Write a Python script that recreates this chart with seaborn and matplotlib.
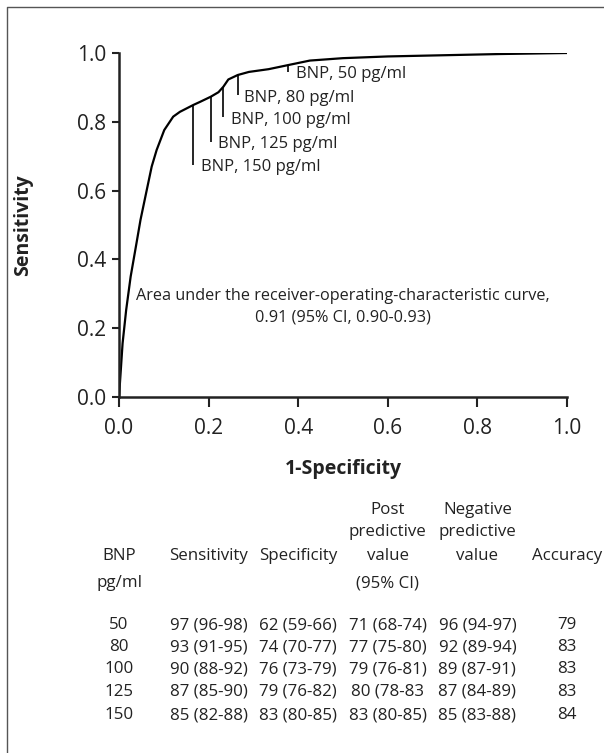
import matplotlib
matplotlib.use("Agg")
import matplotlib.pyplot as plt
import matplotlib.transforms as mtransforms
from matplotlib.lines import Line2D
import seaborn as sns

# ROC curve
fpr = [0, 0.004, 0.008, 0.016, 0.026, 0.039, 0.048, 0.062, 0.073, 0.084, 0.101,
       0.121, 0.136, 0.166, 0.181, 0.205, 0.222, 0.233, 0.244, 0.265, 0.29,
       0.334, 0.378, 0.426, 0.5, 0.6, 0.85, 1.0]
tpr = [0, 0.078, 0.156, 0.253, 0.35, 0.447, 0.515, 0.602, 0.670, 0.718, 0.776,
       0.815, 0.829, 0.849, 0.858, 0.873, 0.886, 0.902, 0.923, 0.936, 0.945,
       0.953, 0.965, 0.978, 0.985, 0.990, 0.997, 1.0]

# cut-off markers (x on curve, top and bottom of the tick line)
bnp_levels = [50, 80, 100, 125, 150]
mark_x = [0.378, 0.265, 0.233, 0.205, 0.166]
mark_top = [0.965, 0.936, 0.902, 0.873, 0.849]
mark_bottom = [0.946, 0.878, 0.813, 0.742, 0.674]
label_x = [0.394, 0.280, 0.249, 0.221, 0.183]
label_y = [0.940, 0.868, 0.805, 0.735, 0.669]

ticks = [0.0, 0.2, 0.4, 0.6, 0.8, 1.0]
tick_labels = ["0.0", "0.2", "0.4", "0.6", "0.8", "1.0"]

# table under the chart
header_cols = [["BNP", "pg/ml"], ["Sensitivity"], ["Specificity"],
               ["Post", "predictive", "value", "(95% CI)"],
               ["Negative", "predictive", "value"], ["Accuracy"]]
sens_ci = ["97 (96-98)", "93 (91-95)", "90 (88-92)", "87 (85-90)", "85 (82-88)"]
spec_ci = ["62 (59-66)", "74 (70-77)", "76 (73-79)", "79 (76-82)", "83 (80-85)"]
ppv_ci = ["71 (68-74)", "77 (75-80)", "79 (76-81)", "80 (78-83", "83 (80-85)"]
npv_ci = ["96 (94-97)", "92 (89-94)", "89 (87-91)", "87 (84-89)", "85 (83-88)"]
accuracy = [79, 83, 83, 83, 84]

sns.set_style("ticks")
plt.rcParams["font.family"] = ["Open Sans", "DejaVu Sans"]

W, H = 604, 753
ink = "#222222"
fig = plt.figure(figsize=(W / 100, H / 100), dpi=100)
ax = fig.add_axes([119 / W, 1 - 397 / H, 448 / W, 344 / H])

sns.lineplot(x=fpr, y=tpr, sort=False, color="black", lw=1.6, ax=ax)
ax.vlines(mark_x, mark_bottom, mark_top, color="black", lw=1.2)
for lx, ly, lv in zip(label_x, label_y, bnp_levels):
    ax.text(lx, ly, f"BNP, {lv} pg/ml", fontsize=12, va="center", ha="left", color=ink)

ax.text(0.5, 0.263, "Area under the receiver-operating-characteristic curve,\n0.91 (95% CI, 0.90-0.93)",
        fontsize=11.7, ha="center", va="center", linespacing=1.5, color=ink)

ax.set_xlim(0, 1.0)
ax.set_ylim(0, 1.0)
ax.set_xticks(ticks)
ax.set_xticklabels(tick_labels)
ax.set_yticks(ticks)
ax.set_yticklabels(tick_labels)
ax.tick_params(axis="x", length=7, width=1.5, pad=8, labelsize=15, colors=ink)
ax.tick_params(axis="y", length=5, width=1.5, pad=4, labelsize=15, colors=ink)
sns.despine(ax=ax)
for s in ["left", "bottom"]:
    ax.spines[s].set_linewidth(1.8)
    ax.spines[s].set_color(ink)
ax.set_xlabel("1-Specificity", fontsize=14, fontweight="bold", color=ink)
ax.set_ylabel("Sensitivity", fontsize=14, fontweight="bold", color=ink)
ax.xaxis.set_label_coords(0.5, (397 - 459) / 344)
ax.yaxis.set_label_coords((33 - 119) / 448, 0.5)

# table, columns aligned with x ticks
tr = mtransforms.blended_transform_factory(ax.transData, fig.transFigure)
header_y = {4: [510, 532, 556, 583], 3: [510, 532, 556], 2: [556, 583], 1: [556]}
for cx, lines in zip(ticks, header_cols):
    ys = header_y[len(lines)]
    for txt, yp in zip(lines, ys):
        ax.text(cx, 1 - yp / H, txt, transform=tr, ha="center", va="center",
                fontsize=12.2, color=ink)

row_y = [625, 647, 669, 692, 715]
for i, yp in enumerate(row_y):
    row = [str(bnp_levels[i]), sens_ci[i], spec_ci[i], ppv_ci[i], npv_ci[i], str(accuracy[i])]
    for cx, txt in zip(ticks, row):
        ax.text(cx, 1 - yp / H, txt, transform=tr, ha="center", va="center",
                fontsize=12.2, color=ink)

# thin frame around the figure (left and top)
fy = 1 - 6.5 / H
fx = 6.5 / W
fig.add_artist(Line2D([fx, fx, 1], [0, fy, fy], transform=fig.transFigure,
                      color="#555555", lw=1))

fig.savefig("out.png", dpi=100)
